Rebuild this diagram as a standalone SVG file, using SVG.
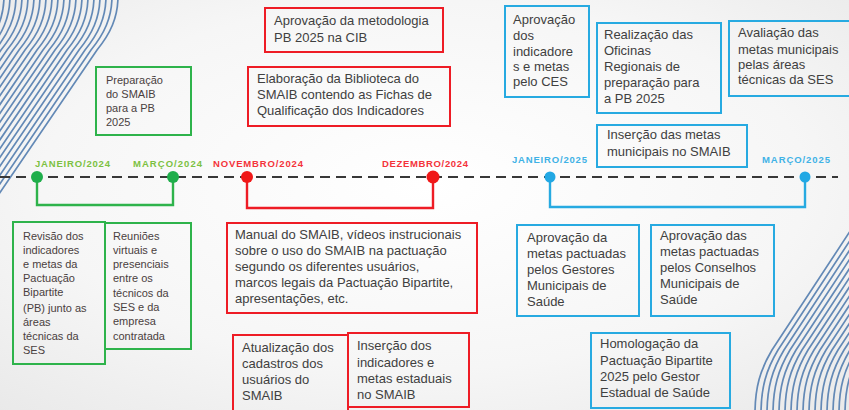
<svg xmlns="http://www.w3.org/2000/svg" width="849" height="410" viewBox="0 0 849 410">
<defs>
<radialGradient id="bg" cx="0.5" cy="0.45" r="0.75">
<stop offset="0" stop-color="#ffffff"/>
<stop offset="0.6" stop-color="#f6f6f6"/>
<stop offset="1" stop-color="#e9e9e9"/>
</radialGradient>
<path id="stTL" d="M118,-4 C118,18 110,34 97,50 L-50,266"/>
<path id="stBR" d="M755,414 C755,388 760,370 772,350 L910,140"/>
</defs>
<style>
.stripe{fill:none;stroke:#6389b6;stroke-width:1.7}
.dash{fill:none;stroke:#383838;stroke-width:2;stroke-dasharray:10 6}
.g{stroke:#2eb34b}
.r{stroke:#ee1c25}
.b{stroke:#27aae1}
.box{fill:none;stroke-width:2}
.br{fill:none;stroke-width:2.4}
.t{font-family:"Liberation Sans",Arial,sans-serif;font-size:13px;fill:#404040}
.ts{font-family:"Liberation Sans",Arial,sans-serif;font-size:11px;fill:#4a4040}
.lbl{font-family:"Liberation Sans",Arial,sans-serif;font-size:9.5px;font-weight:bold}
</style>
<rect width="849" height="410" fill="url(#bg)"/>
<g id="stripes-top-left">
<use href="#stTL" class="stripe"/>
<use href="#stTL" class="stripe" transform="translate(-6,0)"/>
<use href="#stTL" class="stripe" transform="translate(-12,0)"/>
<use href="#stTL" class="stripe" transform="translate(-18,0)"/>
<use href="#stTL" class="stripe" transform="translate(-24,0)"/>
<use href="#stTL" class="stripe" transform="translate(-30,0)"/>
<use href="#stTL" class="stripe" transform="translate(-36,0)"/>
<use href="#stTL" class="stripe" transform="translate(-42,0)"/>
<use href="#stTL" class="stripe" transform="translate(-48,0)"/>
<use href="#stTL" class="stripe" transform="translate(-54,0)"/>
<use href="#stTL" class="stripe" transform="translate(-60,0)"/>
<use href="#stTL" class="stripe" transform="translate(-66,0)"/>
<use href="#stTL" class="stripe" transform="translate(-72,0)"/>
<use href="#stTL" class="stripe" transform="translate(-78,0)"/>
<use href="#stTL" class="stripe" transform="translate(-84,0)"/>
<use href="#stTL" class="stripe" transform="translate(-90,0)"/>
<use href="#stTL" class="stripe" transform="translate(-96,0)"/>
<use href="#stTL" class="stripe" transform="translate(-102,0)"/>
<use href="#stTL" class="stripe" transform="translate(-108,0)"/>
<use href="#stTL" class="stripe" transform="translate(-114,0)"/>
</g>
<g id="stripes-bottom-right">
<use href="#stBR" class="stripe"/>
<use href="#stBR" class="stripe" transform="translate(6,0)"/>
<use href="#stBR" class="stripe" transform="translate(12,0)"/>
<use href="#stBR" class="stripe" transform="translate(18,0)"/>
<use href="#stBR" class="stripe" transform="translate(24,0)"/>
<use href="#stBR" class="stripe" transform="translate(30,0)"/>
<use href="#stBR" class="stripe" transform="translate(36,0)"/>
<use href="#stBR" class="stripe" transform="translate(42,0)"/>
<use href="#stBR" class="stripe" transform="translate(48,0)"/>
<use href="#stBR" class="stripe" transform="translate(54,0)"/>
<use href="#stBR" class="stripe" transform="translate(60,0)"/>
<use href="#stBR" class="stripe" transform="translate(66,0)"/>
<use href="#stBR" class="stripe" transform="translate(72,0)"/>
<use href="#stBR" class="stripe" transform="translate(78,0)"/>
<use href="#stBR" class="stripe" transform="translate(84,0)"/>
<use href="#stBR" class="stripe" transform="translate(90,0)"/>
</g>

<g id="connectors">
<line class="dash" x1="0" y1="177" x2="838" y2="177"/>
<path class="br g" d="M37,177 V205 H173 V177"/>
<path class="br r" d="M247,177 V208 H433 V177"/>
<path class="br b" d="M550,177 V207 H805 V177"/>
</g>

<g id="milestones">
<circle cx="37" cy="177" r="6" fill="#1fae4b"/>
<circle cx="173" cy="177" r="6" fill="#1fae4b"/>
<circle cx="247" cy="177" r="6" fill="#f01818"/>
<circle cx="433" cy="177" r="6.5" fill="#f01818"/>
<circle cx="550" cy="177" r="5.5" fill="#22a8e4"/>
<circle cx="805" cy="177" r="5.5" fill="#22a8e4"/>
<text class="lbl" x="35" y="167" fill="#7cc142" textLength="75">JANEIRO/2024</text>
<text class="lbl" x="133" y="167" fill="#7cc142" textLength="69">MARÇO/2024</text>
<text class="lbl" x="213" y="167" fill="#f4333a" textLength="90">NOVEMBRO/2024</text>
<text class="lbl" x="382" y="167" fill="#f4333a" textLength="86">DEZEMBRO/2024</text>
<text class="lbl" x="512" y="163" fill="#3fb2e6" textLength="75">JANEIRO/2025</text>
<text class="lbl" x="762" y="163" fill="#3fb2e6" textLength="68">MARÇO/2025</text>
</g>

<g id="n-preparacao">
<rect class="box g" x="96" y="67" width="95" height="68"/>
<text class="ts" x="106" y="84">Preparação</text>
<text class="ts" x="106" y="98">do SMAIB</text>
<text class="ts" x="106" y="112">para a PB</text>
<text class="ts" x="106" y="126">2025</text>
</g>

<g id="n-revisao">
<rect class="box g" x="13" y="222" width="92" height="142"/>
<text class="ts" x="23" y="240">Revisão dos</text>
<text class="ts" x="23" y="254">indicadores</text>
<text class="ts" x="23" y="268">e metas da</text>
<text class="ts" x="23" y="282">Pactuação</text>
<text class="ts" x="23" y="296">Bipartite</text>
<text class="ts" x="23" y="312">(PB) junto as</text>
<text class="ts" x="23" y="326">áreas</text>
<text class="ts" x="23" y="340">técnicas da</text>
<text class="ts" x="23" y="354">SES</text>
</g>

<g id="n-reunioes">
<rect class="box g" x="105" y="223" width="86" height="126"/>
<text class="ts" x="113" y="240">Reuniões</text>
<text class="ts" x="113" y="254">virtuais e</text>
<text class="ts" x="113" y="268">presenciais</text>
<text class="ts" x="113" y="282">entre os</text>
<text class="ts" x="113" y="297">técnicos da</text>
<text class="ts" x="113" y="311">SES e da</text>
<text class="ts" x="113" y="325">empresa</text>
<text class="ts" x="113" y="340">contratada</text>
</g>

<g id="n-aprovacao-cib">
<rect class="box r" x="265" y="8" width="178" height="44"/>
<text class="t" x="274" y="25">Aprovação da metodologia</text>
<text class="t" x="274" y="42">PB 2025 na CIB</text>
</g>

<g id="n-biblioteca">
<rect class="box r" x="248" y="67" width="202" height="59"/>
<text class="t" x="257" y="83">Elaboração da Biblioteca do</text>
<text class="t" x="257" y="99">SMAIB contendo as Fichas de</text>
<text class="t" x="257" y="115">Qualificação dos Indicadores</text>
</g>

<g id="n-manual">
<rect class="box r" x="227" y="223" width="250" height="90"/>
<text class="t" x="235" y="239">Manual do SMAIB, vídeos instrucionais</text>
<text class="t" x="235" y="255">sobre o uso do SMAIB na pactuação</text>
<text class="t" x="235" y="271">segundo os diferentes usuários,</text>
<text class="t" x="235" y="287">marcos legais da Pactuação Bipartite,</text>
<text class="t" x="235" y="303">apresentações, etc.</text>
</g>

<g id="n-atualizacao">
<rect class="box r" x="233" y="335" width="115" height="80"/>
<text class="t" x="242" y="352">Atualização dos</text>
<text class="t" x="242" y="368">cadastros dos</text>
<text class="t" x="242" y="384">usuários do</text>
<text class="t" x="242" y="400">SMAIB</text>
</g>

<g id="n-insercao-estaduais">
<rect class="box r" x="348" y="333" width="121" height="74"/>
<text class="t" x="357" y="350">Inserção dos</text>
<text class="t" x="357" y="367">indicadores e</text>
<text class="t" x="357" y="383">metas estaduais</text>
<text class="t" x="357" y="399">no SMAIB</text>
</g>

<g id="n-aprovacao-ces">
<rect class="box b" x="505" y="6" width="84" height="91"/>
<text class="t" x="513" y="24">Aprovação</text>
<text class="t" x="513" y="40">dos</text>
<text class="t" x="513" y="56">indicadore</text>
<text class="t" x="513" y="71">s e metas</text>
<text class="t" x="513" y="86">pelo CES</text>
</g>

<g id="n-oficinas">
<rect class="box b" x="597" y="23" width="124" height="90"/>
<text class="t" x="604" y="39">Realização das</text>
<text class="t" x="604" y="55">Oficinas</text>
<text class="t" x="604" y="71">Regionais de</text>
<text class="t" x="604" y="87">preparação para</text>
<text class="t" x="604" y="103">a PB 2025</text>
</g>

<g id="n-avaliacao">
<rect class="box b" x="729" y="21" width="125" height="75"/>
<text class="t" x="738" y="37">Avaliação das</text>
<text class="t" x="738" y="54">metas municipais</text>
<text class="t" x="738" y="69">pelas áreas</text>
<text class="t" x="738" y="84">técnicas da SES</text>
</g>

<g id="n-insercao-municipais">
<rect class="box b" x="597" y="125" width="150" height="42"/>
<text class="t" x="607" y="139">Inserção das metas</text>
<text class="t" x="607" y="156">municipais no SMAIB</text>
</g>

<g id="n-gestores">
<rect class="box b" x="517" y="225" width="122" height="91"/>
<text class="t" x="527" y="242">Aprovação da</text>
<text class="t" x="527" y="258">metas pactuadas</text>
<text class="t" x="527" y="274">pelos Gestores</text>
<text class="t" x="527" y="290">Municipais de</text>
<text class="t" x="527" y="306">Saúde</text>
</g>

<g id="n-conselhos">
<rect class="box b" x="651" y="225" width="123" height="91"/>
<text class="t" x="660" y="240">Aprovação das</text>
<text class="t" x="660" y="256">metas pactuadas</text>
<text class="t" x="660" y="272">pelos Conselhos</text>
<text class="t" x="660" y="288">Municipais de</text>
<text class="t" x="660" y="304">Saúde</text>
</g>

<g id="n-homologacao">
<rect class="box b" x="591" y="333" width="139" height="75"/>
<text class="t" x="600" y="348">Homologação da</text>
<text class="t" x="600" y="365">Pactuação Bipartite</text>
<text class="t" x="600" y="381">2025 pelo Gestor</text>
<text class="t" x="600" y="397">Estadual de Saúde</text>
</g>
</svg>
